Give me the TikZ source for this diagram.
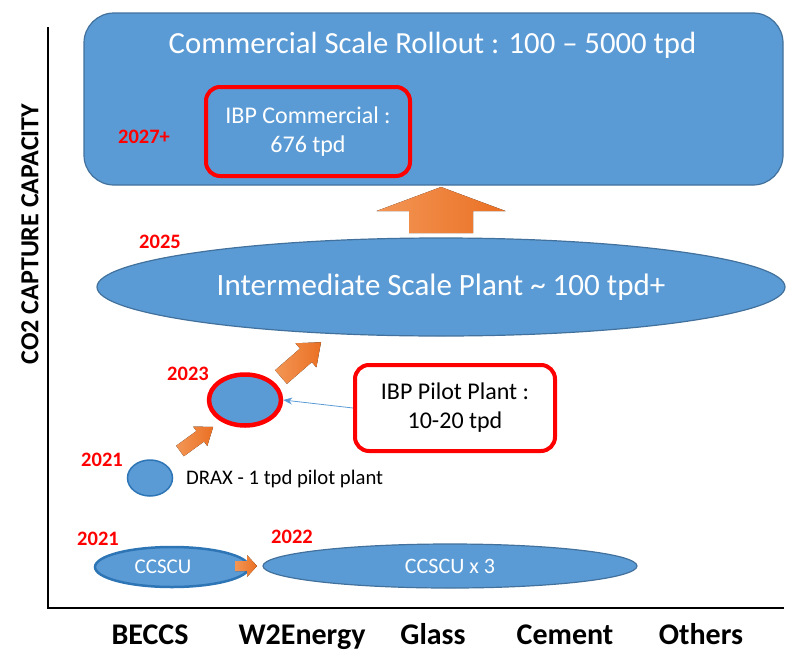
\documentclass[tikz,border=0pt]{standalone}
\usepackage{fontspec}
\setmainfont{Carlito}
\usetikzlibrary{shapes.geometric,arrows.meta}
\definecolor{myblue}{RGB}{91,155,213}
\definecolor{blueedge}{RGB}{65,113,156}
\definecolor{ccscuedge}{RGB}{46,117,182}
\definecolor{orA}{RGB}{243,150,85}
\definecolor{orB}{RGB}{234,112,36}
\definecolor{yearred}{RGB}{255,0,0}
\newcommand\fs[2]{\fontsize{#1}{#2}\selectfont}
\newcommand\fatarrow[6]{\fill[left color=orA,right color=orB,shift={(#1)},rotate=#2] (0,{-#4/2}) -- ({#3-#6},{-#4/2}) -- ({#3-#6},{-#5/2}) -- (#3,0) -- ({#3-#6},{#5/2}) -- ({#3-#6},{#4/2}) -- (0,{#4/2}) -- cycle;}
\tikzset{
  blueshape/.style={fill=myblue,draw=blueedge,line width=1.2pt},
  redbox/.style={draw=yearred,line width=4pt,rounded corners=14pt},
  year/.style={text=yearred,font=\bfseries\fs{20.5}{20.5},inner sep=0pt,anchor=base},
  wtext/.style={text=white,inner sep=0pt},
  catlabel/.style={font=\bfseries\fs{30}{30},inner sep=0pt,anchor=base},
}
\begin{document}
\begin{tikzpicture}[x=1pt,y=-1pt]
\useasboundingbox (0,0) rectangle (786,653);
% axes
\coordinate (ytop) at (48,27);
\coordinate (origin) at (48,608);
\coordinate (xend) at (784,608);
\draw[line width=2pt] (ytop) -- (origin) -- (xend);
\node[rotate=90,font=\bfseries\fs{26}{26}] (ylabel) at (30,234) {CO2 CAPTURE CAPACITY};
% commercial
\node[blueshape,rounded corners=30pt,minimum width=699pt,minimum height=172pt] (rollout) at (433.5,99) {};
\node[wtext,font=\fs{30.7}{30.7},anchor=base] (rollouttxt) at (432.5,53) {Commercial Scale Rollout : 100 – 5000 tpd};
\node[year] (y2027) at (144,143) {2027+};
\node[fill=myblue,redbox,minimum width=204pt,minimum height=89pt,text=white,align=center,font=\fs{24}{29}] (ibpcom) at (308,131.5) {IBP Commercial :\\676 tpd};
% up arrow
\coordinate (upt) at (441,233);
\fatarrow{upt}{90}{46}{64}{129}{24}
% intermediate
\node[ellipse,blueshape,minimum width=688pt,minimum height=98pt,inner sep=0pt,text=white,font=\fs{31}{31}] (inter) at (441,287) {Intermediate Scale Plant \textasciitilde\ 100 tpd+};
\node[year] (y2025) at (160,248) {2025};
% pilot
\node[ellipse,fill=myblue,draw=yearred,line width=4.5pt,minimum width=72pt,minimum height=51pt,inner sep=0pt] (c2023) at (245,400) {};
\node[year] (y2023) at (188,380) {2023};
\node[redbox,fill=white,minimum width=200pt,minimum height=86pt,align=center,font=\fs{24}{29}] (pilot) at (455,408) {IBP Pilot Plant :\\10-20 tpd};
\draw[myblue,line width=0.8pt,-{Stealth[length=9pt,width=7pt]}] (pilot.west) -- (c2023.east);
\coordinate (a2t) at (281,377);
\fatarrow{a2t}{41}{53}{18}{32}{20}
\coordinate (a1t) at (180,451);
\fatarrow{a1t}{36}{41}{13}{24}{16}
% drax
\node[ellipse,fill=myblue,draw=ccscuedge,line width=1.5pt,minimum width=45pt,minimum height=36pt,inner sep=0pt] (drax) at (150,478) {};
\node[font=\fs{20.7}{20.7},anchor=base west,inner sep=0pt] (draxtxt) at (186,484) {DRAX - 1 tpd pilot plant};
\node[year] (y2021a) at (102,466) {2021};
% ccscu
\node[ellipse,fill=myblue,draw=ccscuedge,line width=2.5pt,minimum width=154pt,minimum height=40pt,inner sep=0pt,text=white,font=\fs{21}{21}] (ccscu) at (172,567) {\hspace{-18pt}CCSCU};
\node[year] (y2021b) at (98,545) {2021};
\coordinate (a0t) at (235,566);
\fatarrow{a0t}{0}{22}{10}{22}{10}
\node[ellipse,blueshape,minimum width=374pt,minimum height=44pt,inner sep=0pt,text=white,font=\fs{22}{22}] (ccscu3) at (450,566) {CCSCU x 3};
\node[year] (y2022) at (292,543) {2022};
% categories
\node[catlabel] (cbeccs) at (150,644) {BECCS};
\node[catlabel] (cw2e) at (302,644) {W2Energy};
\node[catlabel] (cglass) at (433,644) {Glass};
\node[catlabel] (ccement) at (565,644) {Cement};
\node[catlabel] (cothers) at (701,644) {Others};
\end{tikzpicture}
\end{document}
